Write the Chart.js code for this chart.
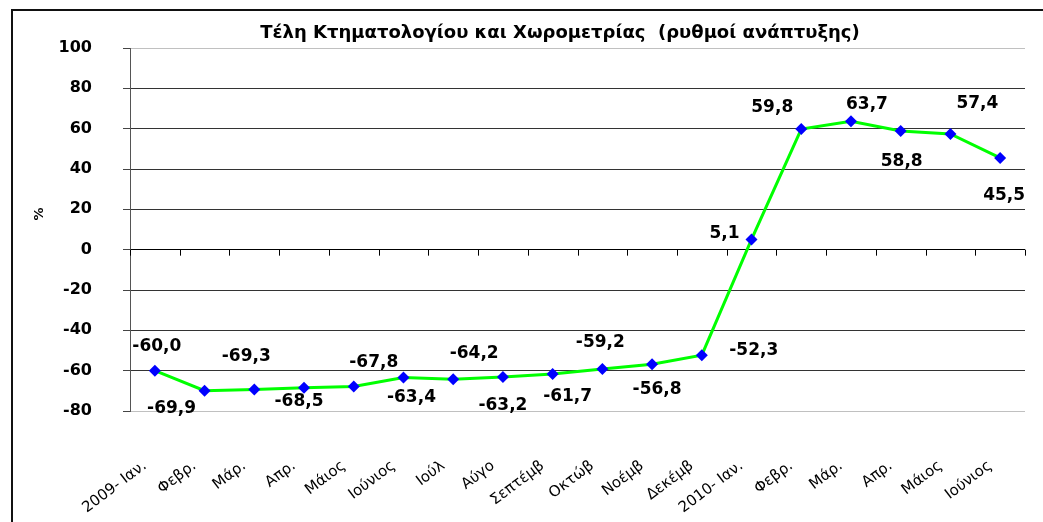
<!DOCTYPE html>
<html>
<head>
<meta charset="utf-8">
<script src="https://cdn.jsdelivr.net/npm/chart.js@4/dist/chart.umd.min.js"></script>
<style>
  html, body { margin: 0; padding: 0; background: #fff; }
  #wrap { width: 1043px; height: 522px; }
</style>
</head>
<body>
<div id="wrap"><canvas id="growthChart" width="1043" height="522"></canvas></div>
<script>
// Τέλη Κτηματολογίου και Χωρομετρίας - ρυθμοί ανάπτυξης (%)
const months = ["2009- Ιαν.", "Φεβρ.", "Μάρ.", "Απρ.", "Μάιος", "Ιούνιος", "Ιούλ", "Αύγο",
    "Σεπτέμβ", "Οκτώβ", "Νοέμβ", "Δεκέμβ", "2010- Ιαν.", "Φεβρ.", "Μάρ.", "Απρ.", "Μάιος", "Ιούνιος"];
const growth = [-60.0, -69.9, -69.3, -68.5, -67.8, -63.4, -64.2, -63.2, -61.7, -59.2, -56.8, -52.3,
    5.1, 59.8, 63.7, 58.8, 57.4, 45.5];
const yMin = -80;
const yMax = 100;
const yStep = 20;
const chartTitle = "Τέλη Κτηματολογίου και Χωρομετρίας  (ρυθμοί ανάπτυξης)";

// where each value label sits relative to its point (dx, dy in px)
const labelOffsets = [
    [2, -24], [-33, 18], [-8, -33], [-5, 14], [20, -24], [8, 20], [21, -26], [0, 28], [15, 22],
    [-2, -26], [5, 25], [52, -5], [-27, -6], [-29, -21], [16, -17], [1, 30], [27, -30], [4, 38]
];

const FONT = "'DejaVu Sans', Verdana, sans-serif";

function fmt(v) {
    return v.toFixed(1).replace('.', ',');
}

const decorations = {
    id: 'decorations',
    beforeDraw(chart) {
        const ctx = chart.ctx;
        ctx.save();
        // outer frame (only left and top visible)
        ctx.strokeStyle = '#111';
        ctx.lineWidth = 2;
        ctx.beginPath();
        ctx.moveTo(12, 530);
        ctx.lineTo(12, 10);
        ctx.lineTo(1050, 10);
        ctx.stroke();
        ctx.restore();
    },
    beforeDatasetsDraw(chart) {
        // small tick marks on the zero line at category boundaries
        const ctx = chart.ctx;
        const xs = chart.scales.x;
        const ys = chart.scales.y;
        const y0 = ys.getPixelForValue(0);
        const half = (xs.getPixelForValue(1) - xs.getPixelForValue(0)) / 2;
        ctx.save();
        ctx.strokeStyle = '#000';
        ctx.lineWidth = 1;
        ctx.beginPath();
        for (let i = 0; i <= months.length; i++) {
            const x = Math.round(xs.getPixelForValue(i) - half) + 0.5;
            ctx.moveTo(x, y0);
            ctx.lineTo(x, y0 + 6);
        }
        ctx.stroke();
        ctx.restore();
    },
    afterDraw(chart) {
        const ctx = chart.ctx;
        const meta = chart.getDatasetMeta(0);
        ctx.save();
        // value labels
        ctx.fillStyle = '#000';
        ctx.font = "bold 17px " + FONT;
        ctx.textAlign = 'center';
        ctx.textBaseline = 'middle';
        meta.data.forEach((pt, i) => {
            const off = labelOffsets[i] || [0, -20];
            ctx.fillText(fmt(growth[i]), pt.x + off[0], pt.y + off[1]);
        });
        // title
        ctx.font = "bold 18px " + FONT;
        ctx.fillText(chartTitle, 560, 33);
        // axis unit
        ctx.font = "bold 13px " + FONT;
        ctx.translate(40, 214);
        ctx.rotate(-Math.PI / 2);
        ctx.fillText('%', 0, 0);
        ctx.restore();
    }
};

function gridColor(c) {
    if (!c.tick) return '#333';
    if (c.tick.value === yMax || c.tick.value === yMin) return '#c0c0c0';
    if (c.tick.value === 0) return '#000';
    return '#333';
}

new Chart(document.getElementById('growthChart'), {
    type: 'line',
    data: {
        labels: months,
        datasets: [{
            label: 'ρυθμοί ανάπτυξης',
            data: growth,
            borderColor: '#00ff00',
            borderWidth: 3,
            tension: 0,
            pointStyle: 'rectRot',
            pointRadius: 6,
            pointBackgroundColor: '#0000ff',
            pointBorderColor: '#0000ff',
            pointBorderWidth: 0
        }]
    },
    options: {
        responsive: false,
        animation: false,
        devicePixelRatio: 1,
        layout: { padding: { top: 48, right: 18, left: 0, bottom: 0 } },
        plugins: {
            legend: { display: false },
            title: { display: false },
            tooltip: { enabled: false }
        },
        scales: {
            x: {
                offset: true,
                grid: { display: false, drawTicks: false },
                border: { display: false },
                ticks: {
                    autoSkip: false,
                    minRotation: 37,
                    maxRotation: 37,
                    padding: 46,
                    labelOffset: -10,
                    color: '#000',
                    font: { family: FONT, size: 15 }
                },
                afterFit(scale) {
                    scale.height = 111;
                    scale.paddingLeft = 0;
                    scale.paddingRight = 0;
                }
            },
            y: {
                min: yMin,
                max: yMax,
                ticks: {
                    stepSize: yStep,
                    padding: 31,
                    color: '#000',
                    font: { family: FONT, size: 16, weight: 'bold' }
                },
                grid: {
                    color: gridColor,
                    tickColor: '#444',
                    tickLength: 7,
                    lineWidth: 1
                },
                border: { display: true, color: '#555', width: 1 },
                afterFit(scale) { scale.width = 130; }
            }
        }
    },
    plugins: [decorations]
});
</script>
</body>
</html>
